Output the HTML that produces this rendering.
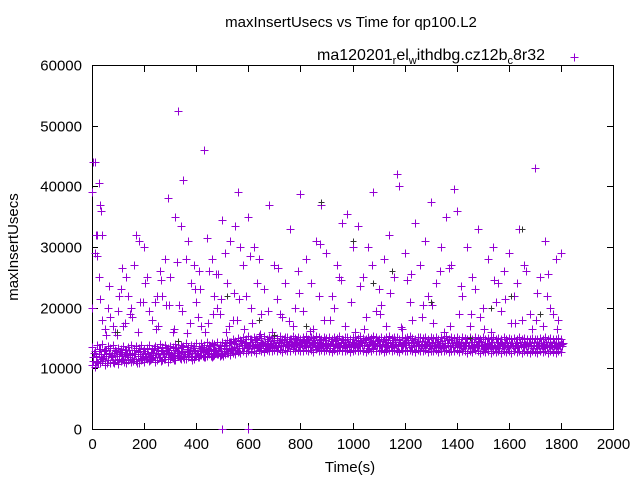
<!DOCTYPE html>
<html><head><meta charset="utf-8">
<style>
body{margin:0;background:#fff;}
svg{display:block;font-family:"Liberation Sans",sans-serif;}
</style></head>
<body>
<svg id="chart" width="640" height="480" viewBox="0 0 640 480" xmlns="http://www.w3.org/2000/svg">
<rect x="0" y="0" width="640" height="480" fill="#fff"/>
<text x="351" y="27" text-anchor="middle" font-size="15">maxInsertUsecs vs Time for qp100.L2</text>
<text x="350" y="472" text-anchor="middle" font-size="15">Time(s)</text>
<text transform="translate(18,247) rotate(-90)" text-anchor="middle" font-size="15">maxInsertUsecs</text>
<g id="axes"></g>
<g id="marks"></g>
<g>
<text x="545" y="60" text-anchor="end" font-size="16">ma120201<tspan font-size="11" dy="4">r</tspan><tspan dy="-4">el</tspan><tspan font-size="11" dy="4">w</tspan><tspan dy="-4">ithdbg.cz12b</tspan><tspan font-size="11" dy="4">c</tspan><tspan dy="-4">8r32</tspan></text>
<path d="M570.5 57.5h8M574.5 53.5v8" stroke="#9400d3" stroke-width="1"/>
</g>
</svg>
<script>
const xTicks=[0,200,400,600,800,1000,1200,1400,1600,1800,2000];
const yTicks=[0,10000,20000,30000,40000,50000,60000];
// band samples every 10 s from 0 to 1800, values in thousands
const bandLo=[10.5,10.2,11.0,10.8,11.2,10.6,11.4,10.9,11.1,11.3,10.7,
11.2,11.5,10.9,11.3,11.0,11.6,11.2,10.8,11.4,11.1,
11.5,11.2,11.7,11.0,11.4,11.8,11.3,11.6,11.1,11.5,
11.7,11.4,12.0,11.6,11.9,11.5,12.1,11.8,11.6,12.0,
11.9,12.2,11.8,12.1,12.3,11.9,12.2,12.4,12.0,12.3,
12.3,12.5,12.2,12.6,12.4,12.7,12.5,12.8,12.6,12.9,
12.7,12.9,12.6,13.0,12.8,12.7,13.1,12.9,12.8,13.0,
12.8,13.0,12.7,13.1,12.9,12.8,13.2,12.9,13.0,12.8,
12.9,13.1,12.8,13.0,12.7,13.2,12.9,13.0,12.8,13.1,
12.9,12.7,13.0,12.8,13.1,12.9,12.8,13.0,12.7,12.9,
13.0,12.8,13.1,12.9,12.7,13.0,12.8,13.2,12.9,12.8,
13.0,12.7,12.9,13.1,12.8,13.0,12.9,12.7,13.0,12.8,
12.9,13.1,12.8,12.7,13.0,12.9,12.8,13.0,12.7,12.9,
12.8,13.0,12.7,12.9,12.8,13.1,12.7,12.9,12.8,13.0,
12.7,12.9,12.8,12.6,12.9,12.7,13.0,12.8,12.6,12.9,
12.7,12.8,12.6,12.9,12.7,12.8,12.6,12.9,12.7,12.8,
12.6,12.8,12.7,12.9,12.6,12.8,12.7,12.6,12.8,12.7,
12.6,12.8,12.7,12.9,12.6,12.8,12.7,12.6,12.8,12.7];
const bandMid=[11.8,12.0,12.3,11.9,12.4,12.1,12.6,12.2,12.5,12.0,12.3,
12.4,12.1,12.6,12.2,12.5,12.3,12.7,12.0,12.4,12.6,
12.3,12.7,12.2,12.6,12.4,12.8,12.3,12.5,12.7,12.4,
12.6,12.9,12.5,12.8,12.4,12.7,13.0,12.6,12.9,12.5,
12.8,13.1,12.7,13.0,12.9,13.2,12.8,13.1,13.3,12.9,
13.2,13.4,13.1,13.5,13.3,13.6,13.4,13.8,13.5,13.9,
13.7,14.0,13.6,13.9,13.8,14.1,13.7,14.0,13.8,13.9,
13.8,14.1,13.7,14.0,13.9,13.8,14.2,13.9,14.0,13.8,
13.9,14.1,13.8,14.0,13.7,14.2,13.9,14.0,13.8,14.1,
13.9,13.7,14.0,13.8,14.1,13.9,13.8,14.0,13.7,13.9,
14.0,13.8,14.1,13.9,13.7,14.0,13.8,14.2,13.9,13.8,
14.0,13.7,13.9,14.1,13.8,14.0,13.9,13.7,14.0,13.8,
13.9,14.1,13.8,13.7,14.0,13.9,13.8,14.0,13.7,13.9,
13.8,14.0,13.7,13.9,13.8,14.1,13.7,13.9,13.8,14.0,
13.7,13.9,13.8,13.6,13.9,13.7,14.0,13.8,13.6,13.9,
13.7,13.8,13.6,13.9,13.7,13.8,13.6,13.9,13.7,13.8,
13.6,13.8,13.7,13.9,13.6,13.8,13.7,13.6,13.8,13.7,
13.6,13.8,13.7,13.9,13.6,13.8,13.7,13.6,13.8,13.7];
const bandHi=[13.5,12.9,13.8,13.2,14.0,13.1,13.6,13.3,13.9,13.0,13.4,
13.2,13.7,13.0,13.5,13.9,13.1,13.6,13.3,13.8,13.2,
13.4,13.9,13.2,13.7,13.3,14.0,13.5,13.8,13.3,13.6,
13.5,14.0,13.4,13.8,13.6,14.1,13.5,13.9,13.7,14.2,
13.6,14.1,13.8,14.3,13.9,14.2,14.0,14.4,13.9,14.3,
14.2,14.6,14.3,14.8,14.5,15.0,14.6,15.1,14.8,15.3,
14.9,15.2,14.8,15.3,15.0,15.4,14.9,15.2,15.0,15.3,
15.0,15.4,14.9,15.2,15.1,14.9,15.3,15.0,15.2,14.9,
15.1,15.3,14.9,15.2,15.0,15.4,15.1,14.9,15.2,15.0,
15.1,14.8,15.2,15.0,15.3,14.9,15.1,15.2,14.9,15.1,
15.2,15.0,15.3,15.0,14.9,15.2,15.0,15.4,15.1,14.9,
15.2,14.9,15.1,15.3,15.0,15.2,15.1,14.9,15.2,15.0,
15.1,15.3,15.0,14.9,15.2,15.1,15.0,15.2,14.9,15.1,
15.0,15.2,14.9,15.1,15.0,15.3,14.9,15.1,15.0,15.2,
14.9,15.1,15.0,14.8,15.1,14.9,15.2,15.0,14.8,15.1,
14.9,15.0,14.8,15.1,14.9,15.0,14.8,15.1,14.9,15.0,
14.8,15.0,14.9,15.1,14.8,15.0,14.9,14.8,15.0,14.9,
14.8,15.0,14.9,15.1,14.8,15.0,14.9,14.8,15.0,14.9];
const bandA=[11.2,12.8,10.9,12.4,11.7,13.0,11.3,12.1,10.8,12.9,11.6,
12.7,11.0,12.2,13.1,11.5,12.4,10.9,12.8,11.7,12.0,
13.2,11.4,12.6,11.9,13.0,11.2,12.5,13.3,11.8,12.2,
11.3,13.4,12.0,12.7,11.6,13.2,12.3,11.4,13.0,12.6,
12.2,13.5,11.9,12.8,13.6,12.1,13.0,12.4,13.7,12.0,
13.8,12.6,14.3,13.0,14.0,12.9,14.5,13.3,14.2,13.6,
14.4,13.3,14.7,13.6,14.2,13.4,14.8,13.5,14.1,13.8,
13.5,14.6,13.9,14.3,13.6,14.8,13.7,14.4,13.5,14.2,
14.5,13.6,14.3,13.8,14.7,13.5,14.2,13.9,14.6,13.7,
13.4,14.5,13.8,14.2,13.6,14.7,13.9,14.4,13.5,14.0,
14.6,13.6,14.3,13.9,14.8,13.4,14.1,13.8,14.5,13.6,
13.7,14.4,13.5,14.1,13.9,14.6,13.6,14.3,13.8,14.2,
14.4,13.5,14.2,13.7,14.5,13.6,14.0,13.9,14.3,13.4,
13.6,14.4,13.8,14.1,13.5,14.6,13.7,14.2,13.9,14.4,
13.9,13.4,14.2,13.7,14.4,13.5,14.0,13.8,14.3,13.3,
13.5,14.2,13.7,13.9,14.4,13.4,14.0,13.6,14.2,13.8,
14.1,13.3,13.9,14.3,13.5,14.0,13.7,14.2,13.4,13.9,
13.8,14.1,13.4,14.3,13.6,13.9,14.2,13.5,13.8,14.0];
const bandB=[12.5,11.0,13.2,11.6,12.9,10.9,12.3,11.8,13.1,11.4,12.7,
11.6,13.0,11.9,12.3,11.2,13.3,12.0,11.5,12.9,11.8,
12.1,11.6,13.4,12.5,11.9,12.8,11.5,13.1,12.3,11.8,
13.0,12.2,11.7,13.5,12.4,11.9,12.8,13.3,12.1,11.8,
13.4,12.0,13.2,12.5,12.1,13.8,12.6,13.3,12.2,13.6,
12.9,14.4,13.2,14.1,13.4,14.7,13.8,14.3,13.6,14.9,
13.9,14.6,13.5,14.4,14.0,13.7,14.5,13.9,14.7,13.6,
14.4,13.7,14.9,13.8,14.5,14.0,13.6,14.7,13.9,14.3,
13.8,14.6,13.5,14.4,14.1,13.8,14.7,13.6,14.2,14.0,
14.5,13.8,14.6,13.5,14.3,13.8,14.8,13.6,14.4,14.1,
13.7,14.5,13.9,14.7,13.6,14.4,14.0,13.8,14.6,13.9,
14.5,13.8,14.6,13.7,14.3,13.9,14.7,13.6,14.1,14.4,
13.8,14.6,13.6,14.3,13.9,14.5,13.7,14.4,13.6,14.2,
14.3,13.7,14.5,13.6,14.2,13.9,14.6,13.5,14.1,13.8,
14.4,13.6,14.1,13.9,13.5,14.3,13.7,14.5,13.6,14.0,
14.1,13.6,14.4,13.5,13.9,14.2,13.7,14.3,13.5,14.1,
13.7,14.2,13.5,13.9,14.3,13.6,14.1,13.8,14.4,13.6,
14.2,13.6,14.0,13.5,14.3,13.7,13.9,14.2,13.6,14.1];
const outT=[0,5,10,20,25,30,35,15,40,10,20,25,30,0,40,60,80,90,100,110,120,130,140,150,160,170,180,200,210,220,240,250,260,270,280,290,300,310,320,330,340,350,360,370,380,390,400,410,420,430,440,450,460,470,480,490,500,510,520,530,540,550,560,570,580,590,600,610,620,640,660,680,700,720,740,760,780,800,820,840,860,880,900,920,940,960,980,1000,1020,1040,1060,1080,1100,1120,1140,1160,1170,1180,1200,1220,1240,1260,1280,1300,1320,1340,1360,1380,1390,1400,1420,1440,1460,1480,1500,1520,1540,1560,1580,1600,1620,1640,1660,1680,1700,1720,1740,1760,1780,1800,500,600,
50,70,95,125,145,175,195,230,255,285,315,345,375,405,435,465,495,525,555,585,615,650,690,730,770,810,850,890,930,970,1010,1050,1090,1130,1190,1230,1270,1310,1350,1410,1450,1490,1530,1570,1610,1650,1690,1730,1770,1790,
65,115,185,265,335,415,475,545,635,710,790,870,950,1030,1110,1210,1290,1370,1470,1550,1630,1710,1750,
55,105,155,205,245,295,325,365,395,445,485,515,565,605,645,675,715,755,795,835,875,915,955,995,1045,1075,1105,1145,1185,1225,1265,1305,1335,1375,1415,1455,1505,1545,1585,1625,1665,1705,1745,1785];
const outV=[39000,44000,44000,32000,40500,37000,36000,32000,32000,29000,28500,25000,21500,20000,18000,20000,17000,16000,19500,23000,17000,25000,22000,20000,27000,32000,31000,30000,25000,19500,21000,22000,26000,22000,28000,38000,25000,16000,35000,52500,33500,41000,28000,31000,24000,27000,21000,26000,17000,46000,31500,26000,28000,22000,20000,19000,34500,29000,24000,31000,18000,33500,39000,30000,27000,22000,35000,20000,30000,28000,23000,37000,27000,19000,24000,33000,20000,38800,28000,24000,31000,37000,29000,22000,27000,34000,35500,30000,33500,25000,30000,39000,23000,28000,32000,25000,42000,40000,29000,21000,34000,27000,31000,37500,24000,30000,35000,27000,39500,36000,22000,30000,25000,33000,20000,28000,30000,24000,26000,29000,22000,33000,27000,19000,43000,25000,31000,20000,28000,29000,0,0,
16500,18500,15500,17500,19000,16000,21000,18000,17000,20500,16500,19500,17500,18500,16000,19000,21500,17000,18000,16500,17500,19000,16000,18500,17000,19500,16500,18000,20000,17000,16000,18500,19500,17000,16500,18000,20500,17500,16000,19000,17000,18500,16000,19500,17500,18000,16500,17000,19000,18000,
23500,26500,21000,24500,20500,23000,25500,22500,24000,21500,26000,22000,25000,23500,20500,24500,22000,26500,23000,21000,24000,22500,25500,
15500,22000,18500,24000,16500,20500,27500,15800,23000,17500,25500,16000,21500,28500,15600,19500,26500,17800,22500,16200,30500,18000,24500,21000,16500,27000,19000,22500,16800,25500,18500,20500,26000,17000,23500,19000,16500,24500,21500,17500,26000,18000,22000,16500];
const blackT=[95,330,520,640,700,820,880,1000,1080,1150,1300,1450,1530,1610,1650,1720];
const blackV=[16000,14500,22000,18000,15500,17000,37500,31000,24000,26000,21000,15000,20000,22000,33000,19000];

const X0=92,X1=613,Y0=429,Y1=65;
function xs(t){return X0+(t-0)*(X1-X0)/2000;}
function ys(v){return Y0-(v-0)*(Y0-Y1)/60000;}
const NS='http://www.w3.org/2000/svg';
const axes=document.getElementById('axes');
const marks=document.getElementById('marks');
function mk(tag,attrs,parent){const e=document.createElementNS(NS,tag);for(const k in attrs)e.setAttribute(k,attrs[k]);parent.appendChild(e);return e;}
const frame=mk('rect',{x:X0+0.5,y:Y1+0.5,width:X1-X0,height:Y0-Y1,fill:'none',stroke:'#000','stroke-width':1},axes);


xTicks.forEach(t=>{const x=Math.round(xs(t))+0.5;
 const tk=mk('path',{d:`M${x} ${Y0}v-6M${x} ${Y1+1}v6`,stroke:'#000'},axes);
 
 
 const lb=mk('text',{x:x,y:Y0+20,'text-anchor':'middle','font-size':15},axes);lb.textContent=t;
 
 });
yTicks.forEach(v=>{const y=Math.round(ys(v))+0.5;
 const tk=mk('path',{d:`M${X0} ${y}h6M${X1} ${y}h-6`,stroke:'#000'},axes);
 
 
 const lb=mk('text',{x:X0-10,y:y+5,'text-anchor':'end','font-size':15},axes);lb.textContent=v;
 
 });
let d='';
function plus(t,v){const x=Math.round(xs(t))+0.5,y=Math.round(ys(v))+0.5;d+=`M${x-4} ${y}h8M${x} ${y-4}v8`;}
const bands=[[bandLo,0],[bandMid,5],[bandHi,0],[bandA,3],[bandB,7]];
bands.forEach(b=>b[0].forEach((v,i)=>plus(i*10+b[1],v*1000)));
outT.forEach((t,i)=>plus(t,outV[i]));
const p=mk('path',{d:d,stroke:'#9400d3','stroke-width':1,fill:'none'},marks);


let db='';
blackT.forEach((t,i)=>{const x=Math.round(xs(t))+0.5,y=Math.round(ys(blackV[i]))+0.5;db+=`M${x-3} ${y}h6M${x} ${y-3}v6`;});
const pb=mk('path',{d:db,stroke:'#333','stroke-width':1,fill:'none'},marks);


</script>
</body></html>
